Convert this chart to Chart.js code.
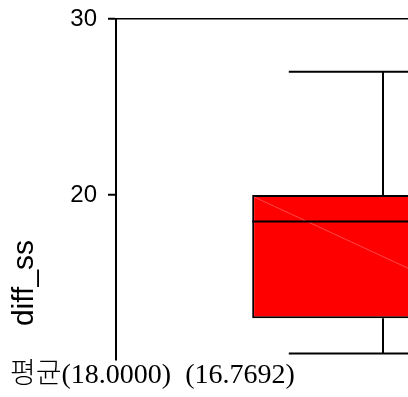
<!DOCTYPE html>
<html>
<head>
<meta charset="utf-8">
<script src="https://cdn.jsdelivr.net/npm/chart.js@4.4.1/dist/chart.umd.min.js"></script>
<style>
  html, body { margin: 0; padding: 0; background: #fff; overflow: hidden; width: 408px; height: 397px; }
  #wrap { position: relative; width: 660px; height: 397px; }
</style>
</head>
<body>
<div id="wrap"><canvas id="c"></canvas></div>
<script>
// Box-plot summary for diff_ss
const groups = ['diff_ss'];
const whiskerLow = [11];
const q1 = [13];
const median = [18.5];
const q3 = [20];
const whiskerHigh = [27];
// Group means shown in the footer line
const groupMeans = [18.0, 16.7692];
// Y-axis ticks
const yTicks = [20, 30];
const yAxisLabel = 'diff_ss';

Chart.defaults.font.family = "'Liberation Sans', Arial, sans-serif";
Chart.defaults.color = '#000';

// Whiskers, caps, median line and the faint seam across the box fill
const boxWhiskers = {
  id: 'boxWhiskers',
  afterDatasetsDraw(chart) {
    const { ctx, scales: { y } } = chart;
    const meta = chart.getDatasetMeta(0);
    meta.data.forEach((bar, i) => {
      const { x, width } = bar.getProps(['x', 'width'], true);
      const left = x - width / 2, right = x + width / 2;
      const capHalf = width * 0.36;
      const pTop = y.getPixelForValue(q3[i]);
      const pBot = y.getPixelForValue(q1[i]);
      const pHi = y.getPixelForValue(whiskerHigh[i]);
      const pLo = y.getPixelForValue(whiskerLow[i]);
      const pMed = y.getPixelForValue(median[i]);
      ctx.save();
      ctx.strokeStyle = 'rgba(255,255,255,0.28)';
      ctx.lineWidth = 1;
      ctx.beginPath();
      ctx.moveTo(left + 2, pTop + 2);
      ctx.lineTo(right - 2, pBot - 2);
      ctx.stroke();

      ctx.strokeStyle = '#000';
      ctx.lineWidth = 2;
      ctx.beginPath();
      ctx.moveTo(x, pTop); ctx.lineTo(x, pHi);
      ctx.moveTo(x, pBot); ctx.lineTo(x, pLo);
      ctx.moveTo(x - capHalf, pHi); ctx.lineTo(x + capHalf, pHi);
      ctx.moveTo(x - capHalf, pLo); ctx.lineTo(x + capHalf, pLo);
      ctx.moveTo(left, pMed); ctx.lineTo(right, pMed);
      ctx.stroke();
      ctx.restore();
    });
  }
};

// Rotated y-axis caption
const yCaption = {
  id: 'yCaption',
  afterDraw(chart) {
    const ctx = chart.ctx;
    ctx.save();
    ctx.translate(25, 283);
    ctx.rotate(-Math.PI / 2);
    ctx.font = "30px 'Liberation Sans', Arial, sans-serif";
    ctx.fillStyle = '#000';
    ctx.textAlign = 'center';
    ctx.textBaseline = 'middle';
    ctx.fillText(yAxisLabel, 0, 0);
    ctx.restore();
  }
};

const footer = '평균' + groupMeans.map(m => '(' + m.toFixed(4) + ')').join('\u2002');

new Chart(document.getElementById('c'), {
  type: 'bar',
  data: {
    labels: groups,
    datasets: [{
      data: groups.map((g, i) => [q1[i], q3[i]]),
      backgroundColor: '#ff0000',
      borderColor: '#000',
      borderWidth: 2,
      borderSkipped: false,
      barPercentage: 0.49,
      categoryPercentage: 1
    }]
  },
  options: {
    responsive: true,
    maintainAspectRatio: false,
    animation: false,
    devicePixelRatio: 1,
    layout: { padding: { left: 10, top: 19, right: 10, bottom: 0 } },
    plugins: {
      legend: { display: false },
      tooltip: { enabled: false },
      title: {
        display: true,
        position: 'bottom',
        align: 'start',
        text: footer,
        color: '#000',
        font: { family: "'Liberation Serif', 'Noto Sans CJK KR', serif", size: 28, weight: 300, lineHeight: 1 },
        padding: { top: 2, bottom: 7 }
      }
    },
    scales: {
      x: { display: false },
      y: {
        min: 10.625,
        max: 30,
        afterBuildTicks: s => { s.ticks = yTicks.map(v => ({ value: v })); },
        afterFit: s => { s.width = 106; },
        border: { display: true, color: '#000', width: 2 },
        grid: {
          color: c => (c.tick && c.tick.value === 30) ? '#000' : 'rgba(0,0,0,0)',
          lineWidth: 1.5,
          drawTicks: true,
          tickLength: 8,
          tickColor: '#000',
          tickWidth: 2
        },
        ticks: { color: '#000', font: { size: 24, lineHeight: 0.55 }, padding: 11 }
      }
    }
  },
  plugins: [boxWhiskers, yCaption]
});
</script>
</body>
</html>
